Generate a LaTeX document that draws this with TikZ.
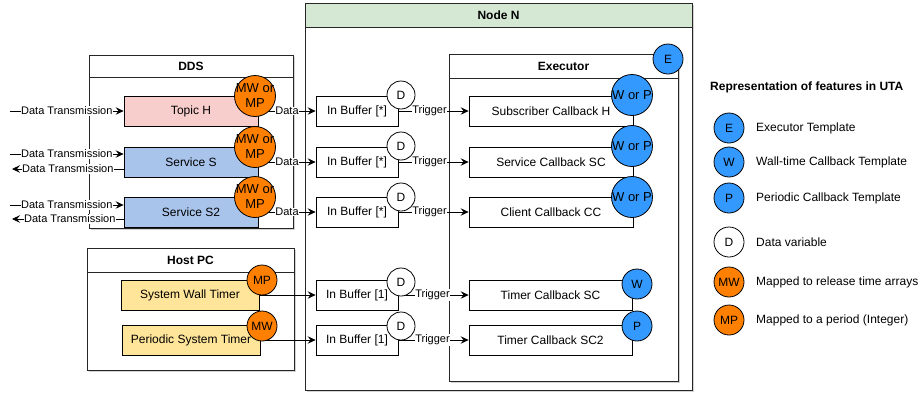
\documentclass[tikz,border=0pt]{standalone}
\usepackage{fontspec}
\setmainfont{Liberation Sans}
\usetikzlibrary{arrows.meta,shadows}
\definecolor{pinkfill}{HTML}{F8CECC}
\definecolor{bluefill}{HTML}{A9C4EB}
\definecolor{yellowfill}{HTML}{FFE599}
\definecolor{greenhead}{HTML}{D5E8D4}
\definecolor{orangedot}{HTML}{FF8000}
\definecolor{bluedot}{HTML}{3399FF}
\tikzset{
  fsl/.style={font=\fontsize{11}{13}\selectfont},
  fsm/.style={font=\fontsize{12}{14}\selectfont},
  fsb/.style={font=\fontsize{12}{14}\selectfont\bfseries},
  container/.style={draw=black!85, line width=0.8pt, fill=white,
    drop shadow={shadow xshift=1.5pt, shadow yshift=-1.5pt, opacity=0.35}},
  box/.style={draw, line width=0.8pt, fsm, inner sep=0pt, minimum height=30pt},
  lbl/.style={fill=white, fsl, inner sep=0.6pt},
  arr/.style={line width=0.8pt, -{Stealth[length=8pt,width=7.5pt,inset=3pt]}},
  bigdot/.style={circle, draw, line width=0.8pt, minimum size=41pt, inner sep=-6pt,
    align=center, font=\fontsize{13}{15}\selectfont},
  dot/.style={circle, draw, line width=0.8pt, minimum size=30pt, inner sep=-2pt, fsm},
  ddot/.style={circle, draw, line width=0.8pt, minimum size=28pt, inner sep=0pt, fill=white, fsm},
  legtext/.style={anchor=west, fsm, inner sep=0pt},
}
\begin{document}
\begin{tikzpicture}[x=1pt, y=-1pt]
\useasboundingbox (0,0) rectangle (923,392);

% ---- containers ----
\draw[container] (305,3) rectangle (692,390);
\fill[greenhead] (305,3) rectangle (692,27);
\draw[draw=black!85, line width=0.8pt] (305,3) rectangle (692,390) (305,27) -- (692,27);
\node[fsb] (nodeN) at (498.5,15) {Node N};

\draw[container] (449,54) rectangle (678,381);
\draw[draw=black!85, line width=0.8pt] (449,78) -- (678,78);
\node[fsb] (execT) at (563.5,66) {Executor};

\draw[container] (89,55) rectangle (293,228);
\draw[draw=black!85, line width=0.8pt] (89,77) -- (293,77);
\node[fsb] (ddsT) at (191,66) {DDS};

\draw[container] (87,248) rectangle (294,370);
\draw[draw=black!85, line width=0.8pt] (87,272) -- (294,272);
\node[fsb] (hostT) at (190.5,260) {Host PC};

% ---- DDS entities ----
\node[box, fill=pinkfill, minimum width=134pt] (topic) at (191,111) {Topic H};
\node[box, fill=bluefill, minimum width=134pt] (srvS) at (191,162) {Service S};
\node[box, fill=bluefill, minimum width=134pt] (srvS2) at (191,212) {Service S2};

% ---- host timers ----
\node[box, fill=yellowfill, minimum width=138pt] (wallT) at (190,295) {System Wall Timer};
\node[box, fill=yellowfill, minimum width=138pt] (perT) at (191,340) {Periodic System Timer};

% ---- input buffers ----
\node[box, minimum width=82pt] (buf1) at (357,111) {In Buffer [*]};
\node[box, minimum width=82pt] (buf2) at (357,162) {In Buffer [*]};
\node[box, minimum width=82pt] (buf3) at (357,212) {In Buffer [*]};
\node[box, minimum width=82pt] (buf4) at (357,295) {In Buffer [1]};
\node[box, minimum width=82pt] (buf5) at (357,340) {In Buffer [1]};

% ---- callbacks ----
\node[box, minimum width=164pt] (cb1) at (551,111) {Subscriber Callback H};
\node[box, minimum width=164pt] (cb2) at (551,162) {Service Callback SC};
\node[box, minimum width=164pt] (cb3) at (551,212) {Client Callback CC};
\node[box, minimum width=163pt] (cb4) at (550.5,295) {Timer Callback SC};
\node[box, minimum width=163pt] (cb5) at (550.5,340) {Timer Callback SC2};

% ---- external data transmission ----
\coordinate (in1) at (10,111);
\coordinate (in2) at (10,154);
\coordinate (out2) at (12,169);
\coordinate (in3) at (10,205);
\coordinate (out3) at (12,219);
\draw[arr] (in1) -- node[lbl] {Data Transmission} (topic.west);
\draw[arr] (in2) -- node[lbl] {Data Transmission} (srvS.west |- in2);
\draw[arr] (srvS.west |- out2) -- node[lbl] {Data Transmission} (out2);
\draw[arr] (in3) -- node[lbl] {Data Transmission} (srvS2.west |- in3);
\draw[arr] (srvS2.west |- out3) -- node[lbl, xshift=2pt] {Data Transmission} (out3);

% ---- data into buffers ----
\draw[arr] (topic.east) -- node[lbl] {Data} (buf1.west);
\draw[arr] (srvS.east) -- node[lbl] {Data} (buf2.west);
\draw[arr] (srvS2.east) -- node[lbl] {Data} (buf3.west);
\draw[arr] (wallT.east) -- (buf4.west);
\draw[arr] (perT.east) -- (buf5.west);

% ---- triggers ----
\draw[arr] (buf1.east) -- node[lbl, xshift=-4pt] {Trigger} (cb1.west);
\draw[arr] (buf2.east) -- node[lbl, xshift=-4pt] {Trigger} (cb2.west);
\draw[arr] (buf3.east) -- node[lbl, xshift=-4pt] {Trigger} (cb3.west);
\draw[arr] (buf4.east) -- node[lbl, xshift=-1pt] {Trigger} (cb4.west);
\draw[arr] (buf5.east) -- node[lbl, xshift=-1pt] {Trigger} (cb5.west);

% ---- feature markers ----
\node[bigdot, fill=orangedot] (mm1) at (255,96) {MW or\\MP};
\node[bigdot, fill=orangedot] (mm2) at (255,147) {MW or\\MP};
\node[bigdot, fill=orangedot] (mm3) at (255,197) {MW or\\MP};
\node[dot, fill=orangedot] (mpT) at (262,280) {MP};
\node[dot, fill=orangedot] (mwT) at (262,326) {MW};

\node[ddot] (d1) at (401,95) {D};
\node[ddot] (d2) at (401,146) {D};
\node[ddot] (d3) at (401,197) {D};
\node[ddot] (d4) at (401,282) {D};
\node[ddot] (d5) at (401,326) {D};

\node[bigdot, fill=bluedot] (wp1) at (632,95) {W or P};
\node[bigdot, fill=bluedot] (wp2) at (632,146) {W or P};
\node[bigdot, fill=bluedot] (wp3) at (632,197) {W or P};
\node[dot, fill=bluedot] (wT) at (637,284) {W};
\node[dot, fill=bluedot] (pT) at (637,326) {P};
\node[dot, fill=bluedot] (eX) at (668,59) {E};

% ---- legend ----
\node[anchor=west, fsb, inner sep=0pt] (legT) at (710,87) {Representation of features in UTA};
\node[dot, fill=bluedot] (lE) at (729,128) {E};
\node[legtext] (lEt) at (756,128) {Executor Template};
\node[dot, fill=bluedot] (lW) at (729,162) {W};
\node[legtext] (lWt) at (756,162) {Wall-time Callback Template};
\node[dot, fill=bluedot] (lP) at (729,198) {P};
\node[legtext] (lPt) at (756,198) {Periodic Callback Template};
\node[dot, fill=white] (lD) at (729,242) {D};
\node[legtext] (lDt) at (756,242) {Data variable};
\node[dot, fill=orangedot] (lMW) at (729,282) {MW};
\node[legtext] (lMWt) at (756,282) {Mapped to release time arrays};
\node[dot, fill=orangedot] (lMP) at (729,320) {MP};
\node[legtext] (lMPt) at (756,320) {Mapped to a period (Integer)};
\end{tikzpicture}
\end{document}
